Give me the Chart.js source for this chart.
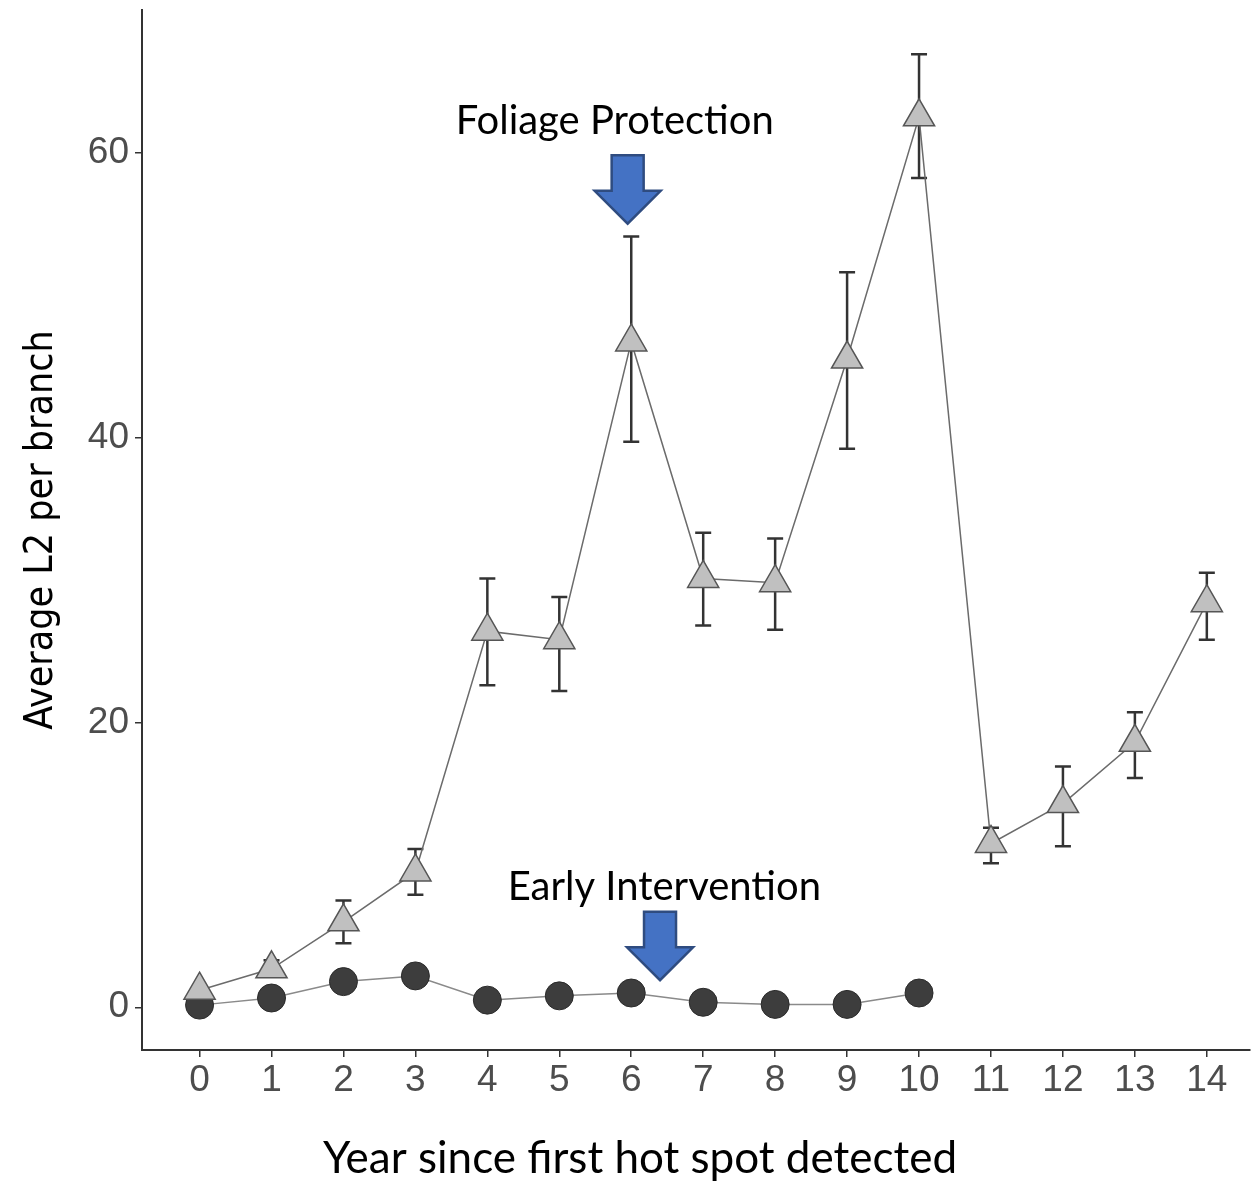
<!DOCTYPE html>
<html>
<head>
<meta charset="utf-8">
<script src="https://cdn.jsdelivr.net/npm/chart.js@4.4.1/dist/chart.umd.min.js"></script>
<style>
  html, body { margin: 0; padding: 0; background: #fff; }
  #wrap { width: 1251px; height: 1185px; }
</style>
</head>
<body>
<div id="wrap"><canvas id="chart"></canvas></div>
<script>
// years since first hot spot
const years = [0, 1, 2, 3, 4, 5, 6, 7, 8, 9, 10, 11, 12, 13, 14];
const yTicks = [0, 20, 40, 60];

// foliage protection series (triangles) with error bars
const foliageMean = [1.2, 2.7, 6.0, 9.5, 26.4, 25.8, 46.7, 30.1, 29.8, 45.5, 62.5, 11.5, 14.3, 18.6, 28.4];
const foliageLow  = [1.2, 2.2, 4.5, 7.9, 22.6, 22.2, 39.7, 26.8, 26.5, 39.2, 58.2, 10.1, 11.3, 16.1, 25.8];
const foliageHigh = [1.2, 3.3, 7.5, 11.1, 30.1, 28.8, 54.1, 33.3, 32.9, 51.6, 66.9, 12.6, 16.9, 20.7, 30.5];

// early intervention series (circles), years 0-10
const earlyYears = [0, 1, 2, 3, 4, 5, 6, 7, 8, 9, 10];
const earlyMean  = [0.15, 0.65, 1.8, 2.2, 0.5, 0.8, 1.0, 0.35, 0.2, 0.2, 1.0];

const xTitle = "Year since first hot spot detected";

// annotations: label + arrow, in data units
const notes = [
  { text: "Foliage Protection", tx: 5.77, ty: 62.2, ax: 5.95, ayTop: 59.8, ayTip: 55.0 },
  { text: "Early Intervention", tx: 6.46, ty: 8.4, ax: 6.4, ayTop: 6.7, ayTip: 1.9 }
];

const errorBars = {
  id: "errorBars",
  beforeDatasetsDraw(chart) {
    const { ctx, scales: { x, y } } = chart;
    ctx.save();
    ctx.strokeStyle = "#333";
    ctx.lineWidth = 2.5;
    years.forEach((yr, i) => {
      if (foliageHigh[i] - foliageLow[i] < 0.01) return;
      const px = x.getPixelForValue(yr);
      const top = y.getPixelForValue(foliageHigh[i]);
      const bot = y.getPixelForValue(foliageLow[i]);
      ctx.beginPath();
      ctx.moveTo(px, top); ctx.lineTo(px, bot);
      ctx.moveTo(px - 8, top); ctx.lineTo(px + 8, top);
      ctx.moveTo(px - 8, bot); ctx.lineTo(px + 8, bot);
      ctx.stroke();
    });
    ctx.restore();
  }
};

const arrows = {
  id: "arrows",
  afterDraw(chart) {
    const { ctx, scales: { x, y } } = chart;
    ctx.save();
    ctx.textAlign = "center";
    ctx.textBaseline = "middle";
    notes.forEach(n => {
      // label
      ctx.fillStyle = "#000";
      ctx.font = "40px Lato, 'Open Sans', sans-serif";
      ctx.fillText(n.text, x.getPixelForValue(n.tx), y.getPixelForValue(n.ty));
      // block arrow
      const cx = x.getPixelForValue(n.ax);
      const top = y.getPixelForValue(n.ayTop);
      const tip = y.getPixelForValue(n.ayTip);
      const headH = (tip - top) * 0.48;
      const shaftW = 16, headW = 33;
      ctx.beginPath();
      ctx.moveTo(cx - shaftW, top);
      ctx.lineTo(cx + shaftW, top);
      ctx.lineTo(cx + shaftW, tip - headH);
      ctx.lineTo(cx + headW, tip - headH);
      ctx.lineTo(cx, tip);
      ctx.lineTo(cx - headW, tip - headH);
      ctx.lineTo(cx - shaftW, tip - headH);
      ctx.closePath();
      ctx.fillStyle = "#4472C4";
      ctx.fill();
      ctx.strokeStyle = "#2F4C80";
      ctx.lineWidth = 2.5;
      ctx.stroke();
    });
    // x axis title sits left of the plot centre in the original
    ctx.fillStyle = "#000";
    ctx.font = "44px Lato, 'Open Sans', sans-serif";
    ctx.fillText(xTitle, 640, 1159);
    ctx.restore();
  }
};

const tickFont = { family: "'Liberation Sans', Arial, sans-serif", size: 37 };

new Chart(document.getElementById("chart"), {
  type: "line",
  data: {
    datasets: [
      {
        label: "Foliage Protection",
        data: years.map((yr, i) => ({ x: yr, y: foliageMean[i] })),
        borderColor: "#6b6b6b",
        borderWidth: 1.5,
        pointStyle: "triangle",
        pointRadius: 18,
        pointBackgroundColor: "#c0c0c0",
        pointBorderColor: "#555",
        pointBorderWidth: 1.5,
        order: 0
      },
      {
        label: "Early Intervention",
        data: earlyYears.map((yr, i) => ({ x: yr, y: earlyMean[i] })),
        borderColor: "#8a8a8a",
        borderWidth: 1.5,
        pointStyle: "circle",
        pointRadius: 14,
        pointBackgroundColor: "#3d3d3d",
        pointBorderColor: "#2a2a2a",
        pointBorderWidth: 1,
        order: 1
      }
    ]
  },
  options: {
    responsive: true,
    maintainAspectRatio: false,
    animation: false,
    layout: { autoPadding: false, padding: { top: 10, right: 1, left: 0, bottom: 0 } },
    plugins: { legend: { display: false }, tooltip: { enabled: false } },
    scales: {
      x: {
        type: "linear",
        min: -0.8,
        max: 14.6,
        afterBuildTicks: s => { s.ticks = years.map(v => ({ value: v })); },
        afterFit: s => { s.height = 135; s.paddingLeft = 0; s.paddingRight = 0; },
        grid: { drawOnChartArea: false, drawTicks: true, tickLength: 7, color: "#333", lineWidth: 1.5 },
        border: { display: true, color: "#333", width: 2 },
        ticks: { color: "#4d4d4d", font: tickFont, padding: 2, maxRotation: 0, autoSkip: false }
      },
      y: {
        type: "linear",
        min: -3,
        max: 70,
        afterBuildTicks: s => { s.ticks = yTicks.map(v => ({ value: v })); },
        afterFit: s => { s.width = 142; s.paddingTop = 0; s.paddingBottom = 0; },
        grid: { drawOnChartArea: false, drawTicks: true, tickLength: 7, color: "#333", lineWidth: 1.5 },
        border: { display: true, color: "#333", width: 2 },
        ticks: { color: "#4d4d4d", font: tickFont, padding: 6 },
        title: {
          display: true,
          text: "Average L2 per branch",
          color: "#000",
          font: { family: "'Liberation Sans Narrow', 'DejaVu Sans Condensed', 'Liberation Sans', sans-serif", size: 39 },
          padding: { top: 18, bottom: 0 }
        }
      }
    }
  },
  plugins: [errorBars, arrows]
});
</script>
</body>
</html>
